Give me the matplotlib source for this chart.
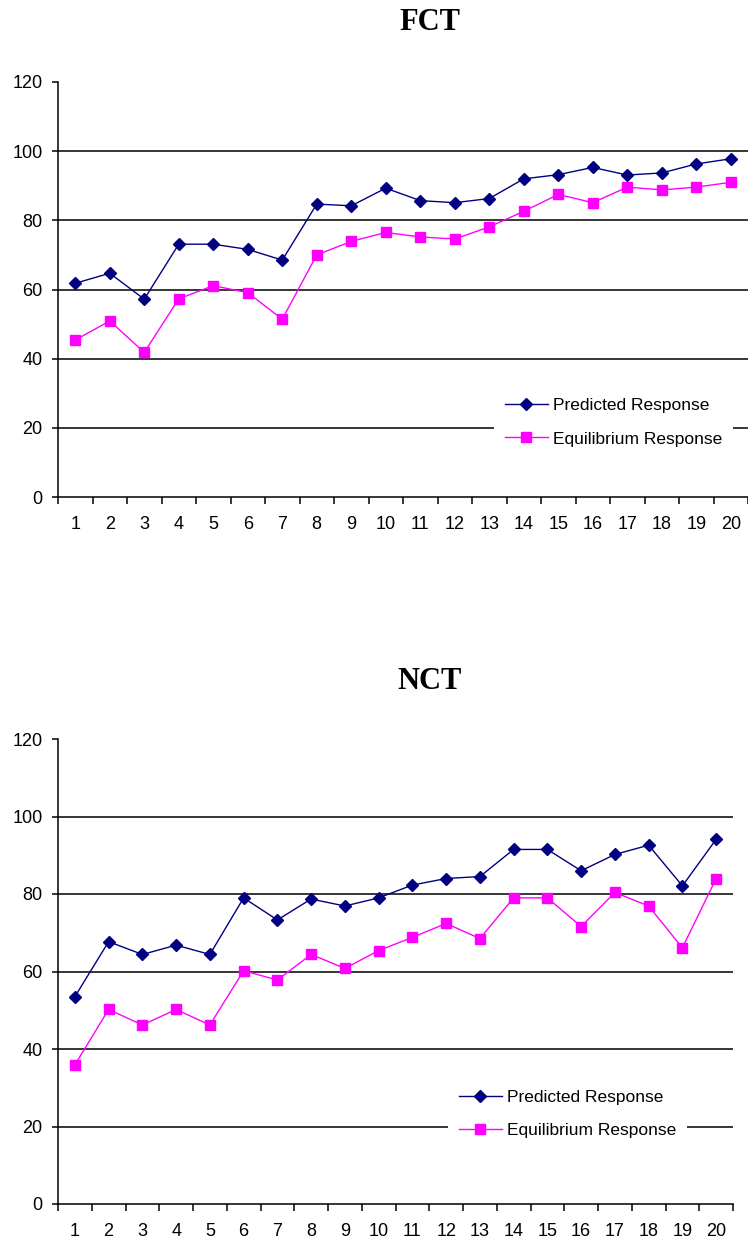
import matplotlib
matplotlib.use("Agg")
import matplotlib.pyplot as plt
import numpy as np

categories = [str(i) for i in range(1, 21)]

fct_predicted = [61.8, 64.7, 57.2, 73.1, 73.1, 71.6, 68.5, 84.7, 84.2, 89.3,
                 85.7, 85.1, 86.3, 92.0, 93.2, 95.3, 93.1, 93.7, 96.3, 97.8]
fct_equilibrium = [45.4, 50.9, 41.8, 57.3, 61.1, 59.1, 51.4, 70.0, 73.9, 76.5,
                   75.2, 74.6, 78.1, 82.6, 87.5, 85.1, 89.6, 88.8, 89.6, 91.0]

nct_predicted = [53.5, 67.7, 64.4, 66.8, 64.4, 79.0, 73.3, 78.7, 76.9, 79.0,
                 82.3, 84.0, 84.5, 91.5, 91.5, 86.0, 90.2, 92.6, 82.1, 94.1]
nct_equilibrium = [35.9, 50.2, 46.2, 50.2, 46.2, 60.2, 57.8, 64.4, 60.8, 65.4,
                   68.8, 72.4, 68.5, 79.0, 79.0, 71.6, 80.4, 76.9, 66.1, 84.0]

y_ticks = [0, 20, 40, 60, 80, 100, 120]
grid_values = [20, 40, 60, 80, 100]
series_labels = ["Predicted Response", "Equilibrium Response"]
titles = ["FCT", "NCT"]

W, H = 748, 1253
fig = plt.figure(figsize=(W / 100, H / 100), dpi=100)

tick_font = dict(family=["Liberation Sans", "DejaVu Sans"], size=13)


def make_panel(rect, pred, equi, title, title_y, leg_center):
    ax = fig.add_axes(rect)
    n = len(categories)
    x = np.arange(n) + 0.5
    ax.set_xlim(0, n)
    ax.set_ylim(0, 120)
    for g in grid_values:
        ax.axhline(g, color="black", lw=1.1, zorder=1)
    ax.plot(x, pred, color="#000080", lw=1.0, marker="D", markersize=6.5,
            markerfacecolor="#000080", markeredgecolor="#000080",
            label=series_labels[0], zorder=3)
    ax.plot(x, equi, color="#FF00FF", lw=1.0, marker="s", markersize=6.5,
            markerfacecolor="#FF00FF", markeredgecolor="#FF00FF",
            label=series_labels[1], zorder=3)
    for s in ["top", "right"]:
        ax.spines[s].set_visible(False)
    for s in ["left", "bottom"]:
        ax.spines[s].set_color("black")
        ax.spines[s].set_linewidth(1.1)
    # x: ticks at boundaries, labels at centres
    ax.set_xticks(np.arange(n + 1))
    ax.set_xticklabels([])
    ax.set_xticks(x, minor=True)
    ax.set_xticklabels(categories, minor=True, fontdict=tick_font)
    ax.tick_params(axis="x", which="major", length=5, width=1.1, direction="out")
    ax.tick_params(axis="x", which="minor", length=0, pad=14)
    ax.set_yticks(y_ticks)
    ax.set_yticklabels([str(v) for v in y_ticks], fontdict=tick_font)
    ax.tick_params(axis="y", length=4, width=1.1, pad=7)
    leg = ax.legend(loc="center", bbox_to_anchor=leg_center, frameon=True,
                    facecolor="white", edgecolor="none", framealpha=1,
                    fancybox=False, handlelength=2.5, handletextpad=0.3,
                    labelspacing=1.05, borderpad=0.6, borderaxespad=0,
                    prop=dict(family=["Liberation Sans", "DejaVu Sans"], size=12.5))
    leg.set_zorder(5)
    fig.text(430 / W, 1 - title_y / H, title, ha="center", va="center",
             family=["Liberation Serif", "DejaVu Serif"], weight="bold", size=22)
    return ax


# top panel: x 58..748, y 82..497 (pixels)
make_panel([58 / W, 1 - 497 / H, 690 / W, 415 / H],
           fct_predicted, fct_equilibrium, titles[0], 23, (0.805, 0.18))
# bottom panel: x 58..733, y 739..1204
make_panel([58 / W, 1 - 1204 / H, 675 / W, 465 / H],
           nct_predicted, nct_equilibrium, titles[1], 681, (0.755, 0.194))

fig.savefig("out.png", dpi=100, facecolor="white")
